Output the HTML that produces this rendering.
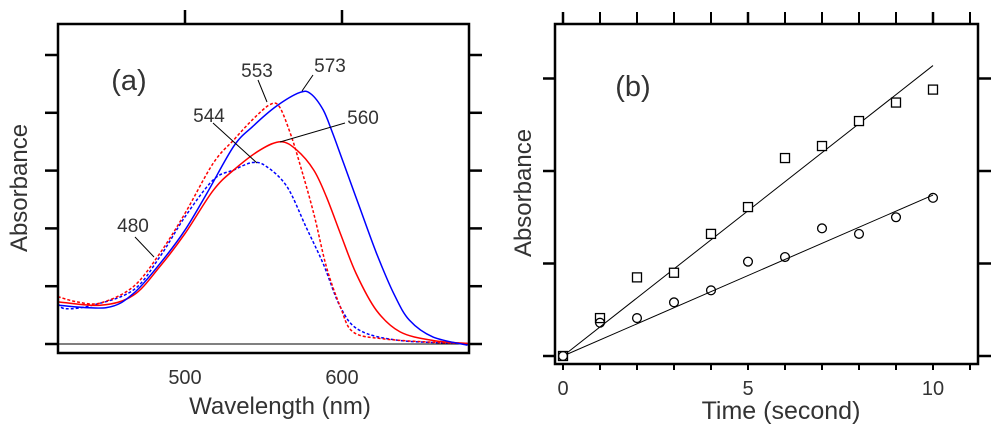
<!DOCTYPE html>
<html><head><meta charset="utf-8">
<style>
html,body{margin:0;padding:0;background:#fff;}
svg{display:block;font-family:"Liberation Sans",Arial,sans-serif;}
</style></head>
<body>
<svg id="chart" width="1000" height="426" viewBox="0 0 1000 426" xmlns="http://www.w3.org/2000/svg">
<g id="pa"></g>
<g id="pb"></g>
</svg>
<script>
// Panel (a) data: wavelength (nm) and absorbance (arbitrary units)
const blueSolidX=[419,450,467,484,500,514,531,543,558,573,580,588,594,601,611,622,633,643,658,680];
const blueSolidY=[0.67,0.63,0.87,1.39,1.97,2.61,3.42,3.76,4.11,4.35,4.33,4.05,3.65,3.13,2.38,1.57,0.87,0.41,0.12,-0.02];
const redSolidX=[419,446,467,484,500,518,531,548,561,571,582,590,599,609,622,637,658,680];
const redSolidY=[0.73,0.67,0.84,1.34,1.91,2.66,3.01,3.36,3.50,3.36,3.01,2.55,1.91,1.22,0.58,0.21,0.06,0.01];
const redDashX=[419,431,446,467,484,500,518,531,543,554,560,567,573,582,590,599,607,626,658,680];
const redDashY=[0.82,0.73,0.71,0.99,1.57,2.26,3.13,3.53,3.88,4.14,4.11,3.65,3.13,2.26,1.34,0.64,0.21,0.09,0.03,0.01];
const blueDashX=[419,424,441,467,484,500,518,531,543,552,565,577,588,599,611,637,680];
const blueDashY=[0.70,0.61,0.67,0.93,1.51,2.20,2.84,3.01,3.14,3.07,2.72,2.03,1.39,0.64,0.24,0.06,0.01];
const aXTicks=[500,600];
const aXTickLabels=["500","600"];
const aYTicks=[0,1,2,3,4,5];
// Panel (b) data
const timeVals=[0,1,2,3,4,5,6,7,8,9,10];
const squareVals=[0,0.41,0.85,0.90,1.32,1.61,2.14,2.27,2.54,2.74,2.88];
const circleVals=[0,0.36,0.41,0.58,0.71,1.02,1.07,1.38,1.32,1.50,1.71];
const squareFit=[0,3.14];
const circleFit=[0,1.74];
const bXTicks=[0,5,10];
const bXTickLabels=["0","5","10"];
const bMinorTicks=[0,1,2,3,4,5,6,7,8,9,10,11];
const bYTicks=[0,1,2,3];

const NS="http://www.w3.org/2000/svg";
function mk(parent,tag,attrs){const e=document.createElementNS(NS,tag);for(const k in attrs)e.setAttribute(k,attrs[k]);parent.appendChild(e);return e;}

// ---- Panel A
const pa=document.getElementById('pa');
const aL=58,aR=469,aT=24,aB=353;
const ax=v=>185+(v-500)*1.57;
const ay=v=>344-v*57.8;
let e;
e=mk(pa,'line',{x1:aL,x2:aR,y1:ay(0),y2:ay(0),stroke:'#000','stroke-width':1});


const clipA=mk(pa,'clipPath',{id:'clipA'});mk(clipA,'rect',{x:aL,y:aT,width:aR-aL,height:aB-aT});
function smooth(pts){
  let d='M'+pts[0][0].toFixed(1)+','+pts[0][1].toFixed(1);
  for(let i=0;i<pts.length-1;i++){
    const p0=pts[Math.max(0,i-1)],p1=pts[i],p2=pts[i+1],p3=pts[Math.min(pts.length-1,i+2)];
    const c1x=p1[0]+(p2[0]-p0[0])/6,c1y=p1[1]+(p2[1]-p0[1])/6;
    const c2x=p2[0]-(p3[0]-p1[0])/6,c2y=p2[1]-(p3[1]-p1[1])/6;
    d+=' C'+c1x.toFixed(1)+','+c1y.toFixed(1)+' '+c2x.toFixed(1)+','+c2y.toFixed(1)+' '+p2[0].toFixed(1)+','+p2[1].toFixed(1);
  }
  return d;
}
function series(g,xs,ys,fx,fy,color,dash,name){
  const pts=xs.map((x,i)=>[fx(x),fy(ys[i])]);
  const p=mk(g,'path',{d:smooth(pts),fill:'none',stroke:color,'stroke-width':1.5,'stroke-dasharray':dash,'clip-path':'url(#clipA)'});
  
  
}
series(pa,blueDashX,blueDashY,ax,ay,'#0000ff','3,2','blue-dashed-spectrum');
series(pa,redDashX,redDashY,ax,ay,'#ff0000','3,2','red-dashed-spectrum');
series(pa,redSolidX,redSolidY,ax,ay,'#ff0000','','red-solid-spectrum');
series(pa,blueSolidX,blueSolidY,ax,ay,'#0000ff','','blue-solid-spectrum');
e=mk(pa,'rect',{x:aL,y:aT,width:aR-aL,height:aB-aT,fill:'none',stroke:'#000','stroke-width':2.5});


aXTicks.forEach((t,i)=>{
  const l=mk(pa,'line',{x1:ax(t),x2:ax(t),y1:10,y2:aT,stroke:'#000','stroke-width':2.5});
  
  
  const tx=mk(pa,'text',{x:ax(t),y:384,'text-anchor':'middle','font-size':20,fill:'#333'});tx.textContent=aXTickLabels[i];
  
  
});
aYTicks.forEach(t=>{
  const l=mk(pa,'line',{x1:45,x2:aL,y1:ay(t),y2:ay(t),stroke:'#000','stroke-width':2.5});
  
  
  const r=mk(pa,'line',{x1:aR,x2:482,y1:ay(t),y2:ay(t),stroke:'#000','stroke-width':2.5});
  
  
});
function txt(g,x,y,s,size,name,rot){
  const t=mk(g,'text',{x:x,y:y,'text-anchor':'middle','font-size':size,fill:'#333'});
  if(rot)t.setAttribute('transform','rotate(-90 '+x+' '+y+')');
  t.textContent=s;
  
  
}
function lead(g,x1,y1,x2,y2){
  const l=mk(g,'line',{x1:x1,y1:y1,x2:x2,y2:y2,stroke:'#000','stroke-width':1});
  
  
}
txt(pa,280,414,'Wavelength (nm)',24,'x-axis-title-a');
txt(pa,27,188,'Absorbance',24,'y-axis-title-a',true);
txt(pa,129,90,'(a)',29,'panel-label-a');
txt(pa,257,77,'553',19,'peak-label-553');lead(pa,258,80,267,102);
txt(pa,330,72,'573',19,'peak-label-573');lead(pa,313,75,302,91);
txt(pa,209,122,'544',19,'peak-label-544');lead(pa,213,123,257,163);
txt(pa,363,124,'560',19,'peak-label-560');lead(pa,345,123,280,142);
txt(pa,133,232,'480',19,'peak-label-480');lead(pa,135,237,154,257);

// ---- Panel B
const pb=document.getElementById('pb');
const bL=555,bR=978,bT=24,bB=364;
const bx=v=>563+v*37;
const by=v=>356-v*92.5;
e=mk(pb,'rect',{x:bL,y:bT,width:bR-bL,height:bB-bT,fill:'none',stroke:'#000','stroke-width':2.5});


bMinorTicks.forEach(t=>{
  const l=mk(pb,'line',{x1:bx(t),x2:bx(t),y1:12,y2:bT,stroke:'#000','stroke-width':bXTicks.includes(t)?2.5:2});
  
  
  const b=mk(pb,'line',{x1:bx(t),x2:bx(t),y1:bB,y2:370,stroke:'#000','stroke-width':2});
  
  
});
bXTicks.forEach((t,i)=>txt(pb,bx(t),395,bXTickLabels[i],20,'x-tick-label-b'));
bYTicks.forEach(t=>{
  const l=mk(pb,'line',{x1:543,x2:bL,y1:by(t),y2:by(t),stroke:'#000','stroke-width':2.5});
  
  
  const r=mk(pb,'line',{x1:bR,x2:991,y1:by(t),y2:by(t),stroke:'#000','stroke-width':2.5});
  
  
});
e=mk(pb,'line',{x1:bx(0),y1:by(squareFit[0]),x2:bx(10),y2:by(squareFit[1]),stroke:'#000','stroke-width':1});


e=mk(pb,'line',{x1:bx(0),y1:by(circleFit[0]),x2:bx(10),y2:by(circleFit[1]),stroke:'#000','stroke-width':1});


timeVals.forEach((t,i)=>{
  const s=mk(pb,'rect',{x:bx(t)-4.5,y:by(squareVals[i])-4.5,width:9,height:9,fill:'#fff',stroke:'#000','stroke-width':1.3});
  
  
  const c=mk(pb,'circle',{cx:bx(t),cy:by(circleVals[i]),r:4.4,fill:'none',stroke:'#000','stroke-width':1.3});
  
  
});
txt(pb,781,419,'Time (second)',25,'x-axis-title-b');
txt(pb,531,193,'Absorbance',24,'y-axis-title-b',true);
txt(pb,633,96,'(b)',29,'panel-label-b');
</script>
</body></html>
